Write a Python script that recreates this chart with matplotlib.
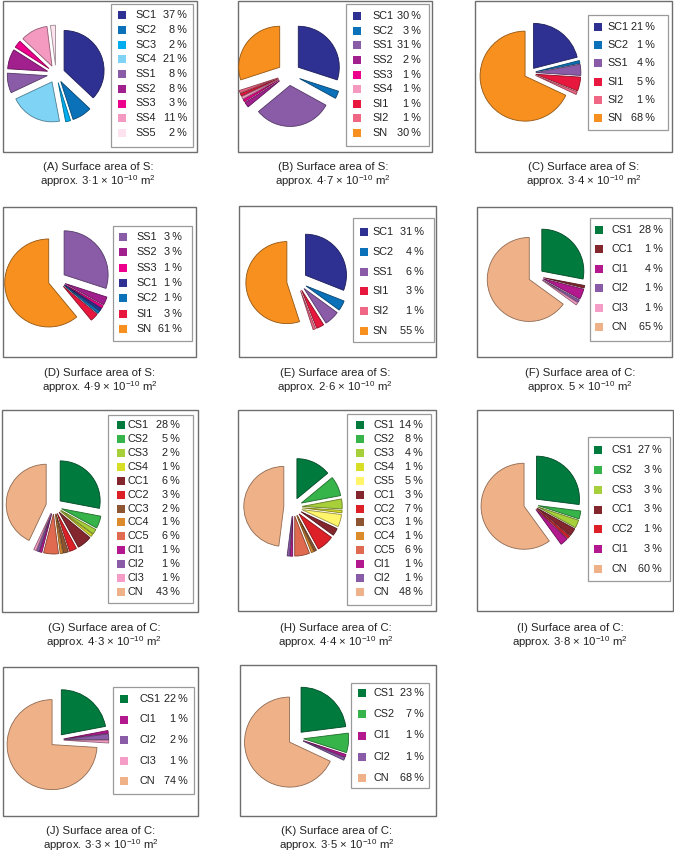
import matplotlib
matplotlib.use("Agg")
import matplotlib.pyplot as plt
from matplotlib.patches import Rectangle
from matplotlib.colors import to_rgb

plt.rcParams['font.family'] = ['Liberation Sans', 'DejaVu Sans']

W, H = 674, 852

colors = {
    "SC1": "#2e3192", "SC2": "#0b72b9", "SC3": "#00aeef", "SC4": "#7fd3f5",
    "SS1": "#8a5ca8", "SS2": "#a21f8e", "SS3": "#ec008c", "SS4": "#f49ac1",
    "SS5": "#fde3ef", "SI1": "#e8173e", "SI2": "#f06785", "SN": "#f7901e",
    "CS1": "#007a3d", "CS2": "#36b44a", "CS3": "#a7cf3a", "CS4": "#d8de25",
    "CS5": "#fff46a", "CC1": "#84262e", "CC2": "#dd2027", "CC3": "#8e5532",
    "CC4": "#dc8b2c", "CC5": "#df6a4f", "CI1": "#b3188f", "CI2": "#8a5ca8",
    "CI3": "#f59dc6", "CN": "#efb188",
}

# slice sizes (percent) and the percentages printed in the legends
names_A = ["SC1", "SC2", "SC3", "SC4", "SS1", "SS2", "SS3", "SS4", "SS5"]
vals_A = [37, 8, 2, 21, 8, 8, 3, 11, 2]

names_B = ["SC1", "SC2", "SS1", "SS2", "SS3", "SS4", "SI1", "SI2", "SN"]
vals_B = [30, 3, 31, 2, 1, 1, 1, 1, 30]

names_C = ["SC1", "SC2", "SS1", "SI1", "SI2", "SN"]
vals_C = [21, 1, 4, 5, 1, 68]

names_D = ["SS1", "SS2", "SS3", "SC1", "SC2", "SI1", "SN"]
vals_D = [30, 3, 1, 1, 1, 3, 61]
shown_D = [3, 3, 1, 1, 1, 3, 61]

names_E = ["SC1", "SC2", "SS1", "SI1", "SI2", "SN"]
vals_E = [31, 4, 6, 3, 1, 55]

names_F = ["CS1", "CC1", "CI1", "CI2", "CI3", "CN"]
vals_F = [28, 1, 4, 1, 1, 65]

names_G = ["CS1", "CS2", "CS3", "CS4", "CC1", "CC2", "CC3", "CC4", "CC5",
           "CI1", "CI2", "CI3", "CN"]
vals_G = [28, 5, 2, 1, 6, 3, 2, 1, 6, 1, 1, 1, 43]

names_H = ["CS1", "CS2", "CS3", "CS4", "CS5", "CC1", "CC2", "CC3", "CC4",
           "CC5", "CI1", "CI2", "CN"]
vals_H = [14, 8, 4, 1, 5, 3, 7, 1, 1, 6, 1, 1, 48]

names_I = ["CS1", "CS2", "CS3", "CC1", "CC2", "CI1", "CN"]
vals_I = [27, 3, 3, 3, 1, 3, 60]

names_J = ["CS1", "CI1", "CI2", "CI3", "CN"]
vals_J = [22, 1, 2, 1, 74]

names_K = ["CS1", "CS2", "CI1", "CI2", "CN"]
vals_K = [23, 7, 1, 1, 68]

letters = ["A", "B", "C", "D", "E", "F", "G", "H", "I", "J", "K"]
element = ["S", "S", "S", "S", "S", "C", "C", "C", "C", "C", "C"]
area = ["3·1", "4·7", "3·4", "4·9", "2·6", "5", "4·3", "4·4", "3·8", "3·3", "3·5"]

data = {
    "A": (names_A, vals_A, vals_A), "B": (names_B, vals_B, vals_B),
    "C": (names_C, vals_C, vals_C), "D": (names_D, vals_D, shown_D),
    "E": (names_E, vals_E, vals_E), "F": (names_F, vals_F, vals_F),
    "G": (names_G, vals_G, vals_G), "H": (names_H, vals_H, vals_H),
    "I": (names_I, vals_I, vals_I), "J": (names_J, vals_J, vals_J),
    "K": (names_K, vals_K, vals_K),
}

# layout in image pixels: frame, pie (cx, cy, r, explode frac), legend, caption
layout = {
    "A": ((3, 1, 197, 152), (56, 74, 40, 0.22), (111, 4, 193, 147, 15, 133, 118, 135, 187), (98, 167, 181)),
    "B": ((238, 1, 432, 152), (289, 74, 41, 0.28), (346, 4, 429, 146, 16, 133, 353, 372, 421), (333, 167, 181)),
    "C": ((475, 1, 672, 152), (530, 73, 45, 0.13), (588, 15, 668, 130, 27, 118, 594, 607, 655), (584, 167, 181)),
    "D": ((3, 207, 196, 357), (57, 280, 44, 0.2), (113, 226, 192, 341, 237, 329, 119, 136, 182), (100, 373, 387)),
    "E": ((239, 206, 436, 357), (297, 281, 41, 0.25), (353, 218, 434, 342, 232, 331, 360, 372, 424), (335, 373, 387)),
    "F": ((477, 207, 672, 357), (536, 276, 42, 0.18), (590, 218, 670, 341, 230, 327, 595, 612, 663), (580, 373, 387)),
    "G": ((2, 410, 198, 612), (54, 506, 40, 0.2), (108, 415, 193, 603, 425, 592, 117, 128, 180), (104, 628, 642)),
    "H": ((238, 410, 436, 611), (293, 507, 40, 0.23), (347, 414, 431, 605, 425, 592, 356, 373, 423), (336, 628, 642)),
    "I": ((477, 410, 673, 611), (531, 504, 43, 0.17), (588, 437, 670, 581, 450, 569, 594, 612, 662), (570, 628, 642)),
    "J": ((3, 667, 198, 816), (57, 740, 45, 0.15), (113, 687, 194, 794, 699, 781, 120, 139, 188), (101, 831, 845)),
    "K": ((240, 665, 436, 816), (296, 738, 45, 0.17), (351, 683, 429, 788, 693, 778, 358, 373, 424), (337, 831, 845)),
}


def Y(y):
    return H - y


def darker(c, f=0.6):
    r, g, b = to_rgb(c)
    return (r * f, g * f, b * f)


fig = plt.figure(figsize=(W / 100, H / 100), dpi=100)
ax = fig.add_axes([0, 0, 1, 1])

for i, key in enumerate(letters):
    names, vals, shown = data[key]
    box, pie, leg, cap = layout[key]

    x0, y0, x1, y1 = box
    ax.add_patch(Rectangle((x0, Y(y1)), x1 - x0, y1 - y0, fill=False,
                           edgecolor="#6e6e6e", linewidth=1.0))

    cx, cy, r, ex = pie
    cols = [colors[n] for n in names]
    wedges, _ = ax.pie(vals, colors=cols, startangle=90, counterclock=False,
                       center=(cx, Y(cy)), radius=r,
                       explode=[ex * r] * len(vals),
                       wedgeprops=dict(linewidth=0.6))
    for w, c in zip(wedges, cols):
        w.set_edgecolor(darker(c))

    lx0, ly0, lx1, ly1, first, last, sqx, labx, pctx = leg
    ax.add_patch(Rectangle((lx0, Y(ly1)), lx1 - lx0, ly1 - ly0, fill=False,
                           edgecolor="#9a9a9a", linewidth=0.9))
    n = len(names)
    step = (last - first) / (n - 1)
    for j, (nm, p) in enumerate(zip(names, shown)):
        yy = first + j * step
        ax.add_patch(Rectangle((sqx, Y(yy) - 4), 8, 8, facecolor=colors[nm],
                               edgecolor="none"))
        ax.text(labx, Y(yy), nm, fontsize=7.8, va="center", ha="left",
                color="#222222")
        ax.text(pctx, Y(yy), f"{p}\u2009%", fontsize=7.8, va="center",
                ha="right", color="#222222")

    ccx, cy1, cy2 = cap
    ax.text(ccx, Y(cy1), f"({key}) Surface area of {element[i]}:",
            fontsize=8.2, ha="center", va="center", color="#222222")
    ax.text(ccx, Y(cy2),
            f"approx. {area[i]} × 10$^{{\\mathregular{{-10}}}}$ m$^{{\\mathregular{{2}}}}$",
            fontsize=8.2, ha="center", va="center", color="#222222")

ax.set_xlim(0, W)
ax.set_ylim(0, H)
ax.set_aspect("auto")
ax.axis("off")

fig.savefig("out.png", dpi=100)
